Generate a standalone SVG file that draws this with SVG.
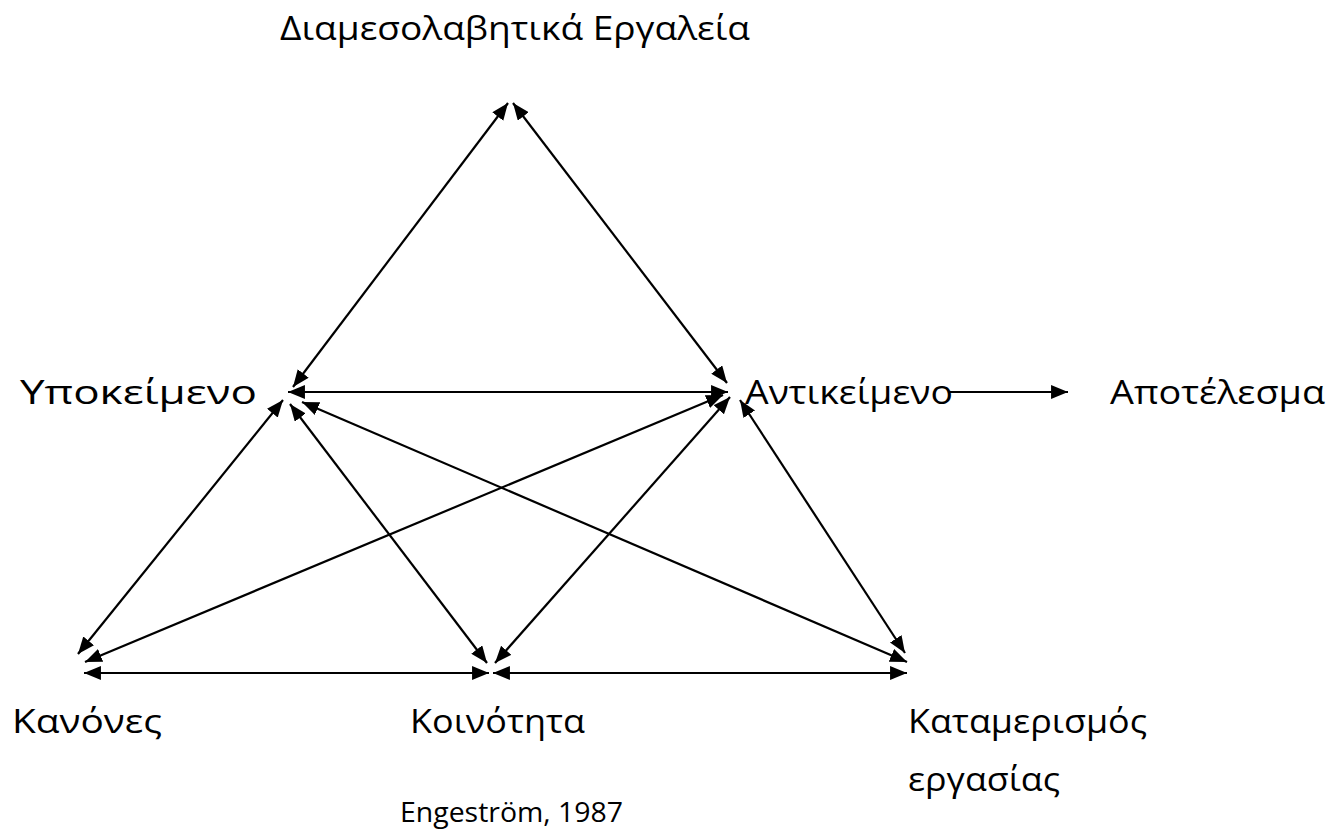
<svg xmlns="http://www.w3.org/2000/svg" width="1339" height="833" viewBox="0 0 1339 833">
  <style>
    .lbl { font-family: "Open Sans", "Liberation Sans", sans-serif; font-size: 33px; fill: #000; }
    .cite { font-size: 28px; }
    .edge { stroke: #000; stroke-width: 2.2; fill: none; }
  </style>
  <defs>
    <marker id="head" markerUnits="userSpaceOnUse" markerWidth="18" markerHeight="14" viewBox="0 0 17 13" refX="16" refY="6.5" orient="auto-start-reverse">
      <path d="M0,0 L16,6.5 L0,13 Z" fill="#000"/>
    </marker>
  </defs>
  <rect width="1339" height="833" fill="#fff"/>

  <!-- activity system triangle: every link is two-way except object -> outcome -->
  <g id="connectors">
    <line class="edge" x1="293" y1="387" x2="508" y2="103" marker-start="url(#head)" marker-end="url(#head)"/>
    <line class="edge" x1="513" y1="103" x2="727" y2="383" marker-start="url(#head)" marker-end="url(#head)"/>
    <line class="edge" x1="288" y1="392" x2="728" y2="392" marker-start="url(#head)" marker-end="url(#head)"/>
    <line class="edge" x1="283" y1="400" x2="78" y2="654" marker-start="url(#head)" marker-end="url(#head)"/>
    <line class="edge" x1="723" y1="395" x2="85" y2="662" marker-start="url(#head)" marker-end="url(#head)"/>
    <line class="edge" x1="290" y1="404" x2="487" y2="663" marker-start="url(#head)" marker-end="url(#head)"/>
    <line class="edge" x1="730" y1="397" x2="495" y2="663" marker-start="url(#head)" marker-end="url(#head)"/>
    <line class="edge" x1="302" y1="402" x2="907" y2="662" marker-start="url(#head)" marker-end="url(#head)"/>
    <line class="edge" x1="740" y1="400" x2="905" y2="653" marker-start="url(#head)" marker-end="url(#head)"/>
    <line class="edge" x1="84" y1="673" x2="489" y2="673" marker-start="url(#head)" marker-end="url(#head)"/>
    <line class="edge" x1="493" y1="673" x2="907" y2="673" marker-start="url(#head)" marker-end="url(#head)"/>
    <line class="edge" x1="950" y1="392" x2="1068" y2="392" marker-end="url(#head)"/>
  </g>

  <g id="tools"><text class="lbl" x="280" y="40" textLength="470" lengthAdjust="spacingAndGlyphs">Διαμεσολαβητικά Εργαλεία</text></g>
  <g id="subject"><text class="lbl" x="20" y="404" textLength="237" lengthAdjust="spacingAndGlyphs">Υποκείμενο</text></g>
  <g id="object"><text class="lbl" x="745" y="404" textLength="208" lengthAdjust="spacingAndGlyphs">Αντικείμενο</text></g>
  <g id="outcome"><text class="lbl" x="1110" y="404" textLength="215" lengthAdjust="spacingAndGlyphs">Αποτέλεσμα</text></g>
  <g id="rules"><text class="lbl" x="12" y="733" textLength="150" lengthAdjust="spacingAndGlyphs">Κανόνες</text></g>
  <g id="community"><text class="lbl" x="410" y="733" textLength="175" lengthAdjust="spacingAndGlyphs">Κοινότητα</text></g>
  <g id="division">
    <text class="lbl" x="908" y="733" textLength="239" lengthAdjust="spacingAndGlyphs">Καταμερισμός</text>
    <text class="lbl" x="908" y="791" textLength="152" lengthAdjust="spacingAndGlyphs">εργασίας</text>
  </g>
  <g id="citation"><text class="lbl cite" x="400" y="822" textLength="223" lengthAdjust="spacingAndGlyphs">Engeström, 1987</text></g>
</svg>
